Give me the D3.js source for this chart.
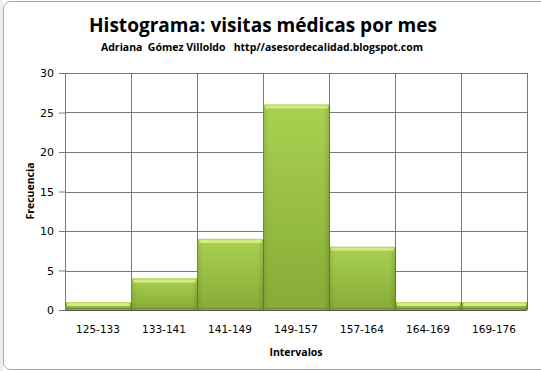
<!DOCTYPE html>
<html>
<head>
<meta charset="utf-8">
<script src="https://cdn.jsdelivr.net/npm/d3@7"></script>
<style>
    body { margin: 0; background: #fff; }
    svg { display: block; }
</style>
</head>
<body>
<div id="chart"></div>
<script>
// Data
const categories = ["125-133", "133-141", "141-149", "149-157", "157-164", "164-169", "169-176"];
const frequencies = [1, 4, 9, 26, 8, 1, 1];
const yTicks = [0, 5, 10, 15, 20, 25, 30];

const W = 541, H = 371;
const margin = { top: 73, right: 14, bottom: 61, left: 65 };
const width = W - margin.left - margin.right;
const height = H - margin.top - margin.bottom;

const root = d3.select("#chart").append("svg")
    .attr("width", W)
    .attr("height", H);

// gradients for the bevelled bars
const defs = root.append("defs");
const body = defs.append("linearGradient")
    .attr("id", "barBody")
    .attr("x1", 0).attr("y1", 0).attr("x2", 0).attr("y2", 1);
body.append("stop").attr("offset", "0%").attr("stop-color", "#a9d150");
body.append("stop").attr("offset", "100%").attr("stop-color", "#86ab36");

const side = defs.append("linearGradient")
    .attr("id", "barSide")
    .attr("x1", 0).attr("y1", 0).attr("x2", 1).attr("y2", 0);
side.append("stop").attr("offset", "0%").attr("stop-color", "#000").attr("stop-opacity", 0.08);
side.append("stop").attr("offset", "8%").attr("stop-color", "#000").attr("stop-opacity", 0);
side.append("stop").attr("offset", "92%").attr("stop-color", "#000").attr("stop-opacity", 0);
side.append("stop").attr("offset", "100%").attr("stop-color", "#000").attr("stop-opacity", 0.12);

// chart frame
root.append("rect")
    .attr("x", 0).attr("y", 0).attr("width", 3).attr("height", H)
    .attr("fill", "#eeeeee");
root.append("rect")
    .attr("x", 3.5).attr("y", 1.5)
    .attr("width", W + 20).attr("height", H - 3)
    .attr("rx", 7)
    .attr("fill", "#fff")
    .attr("stroke", "#a8a8a8");

// titles
root.append("text")
    .attr("x", 263).attr("y", 32)
    .attr("text-anchor", "middle")
    .attr("font-family", "Open Sans, sans-serif")
    .attr("font-weight", "bold")
    .attr("font-size", 19)
    .attr("textLength", 348)
    .attr("lengthAdjust", "spacingAndGlyphs")
    .text("Histograma: visitas médicas por mes");
root.append("text")
    .attr("x", 262).attr("y", 51)
    .attr("text-anchor", "middle")
    .attr("font-family", "Open Sans, sans-serif")
    .attr("font-weight", "bold")
    .attr("font-size", 10.5)
    .attr("textLength", 322)
    .attr("lengthAdjust", "spacingAndGlyphs")
    .style("white-space", "pre")
    .text("Adriana  Gómez Villoldo   http//asesordecalidad.blogspot.com");

const svg = root.append("g")
    .attr("transform", `translate(${margin.left},${margin.top})`);

const x = d3.scaleBand()
    .domain(categories)
    .range([0, width])
    .padding(0);
const y = d3.scaleLinear()
    .domain([0, 30])
    .range([height, 0]);

// grid lines
svg.append("g")
    .selectAll("line")
    .data(yTicks)
    .join("line")
    .attr("x1", 0).attr("x2", width)
    .attr("y1", d => Math.round(y(d)) + 0.5)
    .attr("y2", d => Math.round(y(d)) + 0.5)
    .attr("stroke", "#7a7a7a");
svg.append("g")
    .selectAll("line")
    .data(categories.slice(1).concat([null]))
    .join("line")
    .attr("x1", d => Math.round(d === null ? width : x(d)) + 0.5)
    .attr("x2", d => Math.round(d === null ? width : x(d)) + 0.5)
    .attr("y1", 0).attr("y2", height)
    .attr("stroke", "#7a7a7a");

// bars
const bars = svg.append("g")
    .selectAll("g")
    .data(categories.map((c, i) => ({ cat: c, value: frequencies[i] })))
    .join("g");
bars.append("rect")
    .attr("x", d => x(d.cat) + 1)
    .attr("y", d => y(d.value))
    .attr("width", x.bandwidth() - 1)
    .attr("height", d => height - y(d.value))
    .attr("fill", "url(#barBody)");
bars.append("rect")
    .attr("x", d => x(d.cat) + 1)
    .attr("y", d => y(d.value))
    .attr("width", x.bandwidth() - 1)
    .attr("height", d => height - y(d.value))
    .attr("fill", "url(#barSide)");
// top bevel highlight
bars.append("rect")
    .attr("x", d => x(d.cat) + 2)
    .attr("y", d => y(d.value) + 1)
    .attr("width", x.bandwidth() - 3)
    .attr("height", d => Math.min(3, height - y(d.value) - 2))
    .attr("rx", 1.5)
    .attr("fill", "#d3ec82");
bars.append("line")
    .attr("x1", d => x(d.cat) + 1)
    .attr("x2", d => x(d.cat) + x.bandwidth())
    .attr("y1", d => y(d.value) + 0.5)
    .attr("y2", d => y(d.value) + 0.5)
    .attr("stroke", "#bcdc64");
// bar separators
bars.append("line")
    .attr("x1", d => x(d.cat) + x.bandwidth() + 0.5)
    .attr("x2", d => x(d.cat) + x.bandwidth() + 0.5)
    .attr("y1", d => y(d.value))
    .attr("y2", height)
    .attr("stroke", "#5d7a22")
    .attr("stroke-opacity", 0.8);
// bottom shading
bars.append("line")
    .attr("x1", d => x(d.cat) + 1)
    .attr("x2", d => x(d.cat) + x.bandwidth())
    .attr("y1", height - 1.5)
    .attr("y2", height - 1.5)
    .attr("stroke", "#6f8f2a");

// axes
const yAxis = svg.append("g")
    .call(d3.axisLeft(y).tickValues(yTicks).tickSize(6).tickPadding(5));
yAxis.select(".domain").attr("stroke", "#7a7a7a").attr("d", `M0.5,0V${height}`);
yAxis.selectAll(".tick line").attr("stroke", "#7a7a7a");
yAxis.selectAll("text")
    .attr("font-family", "DejaVu Sans, sans-serif")
    .attr("font-size", 11)
    .attr("fill", "#000");

const xAxis = svg.append("g")
    .attr("transform", `translate(0,${height})`)
    .call(d3.axisBottom(x).tickSize(0).tickPadding(16));
xAxis.select(".domain").attr("stroke", "#555").attr("d", `M0,0.5H${width}`);
xAxis.selectAll("text")
    .attr("font-family", "DejaVu Sans, sans-serif")
    .attr("font-size", 10.5)
    .attr("fill", "#000");

// axis titles
root.append("text")
    .attr("x", 296).attr("y", 356)
    .attr("text-anchor", "middle")
    .attr("font-family", "Open Sans, sans-serif")
    .attr("font-weight", "bold")
    .attr("font-size", 10.5)
    .text("Intervalos");
root.append("text")
    .attr("transform", "translate(34,191) rotate(-90)")
    .attr("text-anchor", "middle")
    .attr("font-family", "Open Sans, sans-serif")
    .attr("font-weight", "bold")
    .attr("font-size", 10.5)
    .text("Frecuencia");
</script>
</body>
</html>
